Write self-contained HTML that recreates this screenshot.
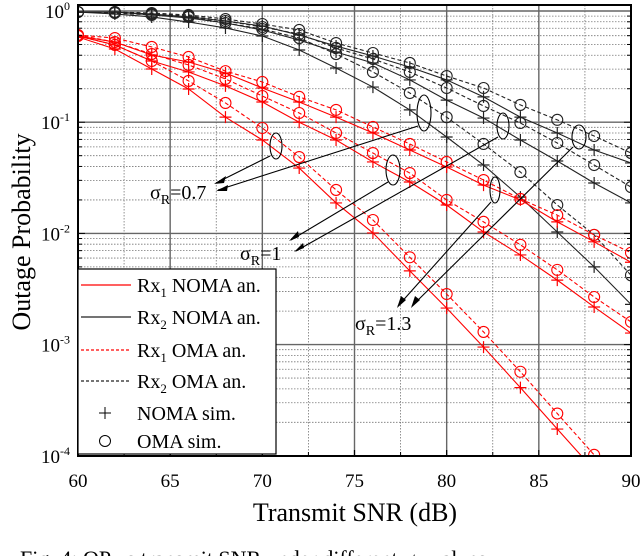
<!DOCTYPE html>
<html><head><meta charset="utf-8"><style>
body{margin:0;background:#fff;width:640px;height:556px;overflow:hidden}
svg{display:block;font-family:"Liberation Serif",serif}
</style></head><body>
<svg id="chart" width="640" height="556" viewBox="0 0 640 556" xmlns="http://www.w3.org/2000/svg">
<g id="grid"></g>
<g id="series"></g>
<g id="axes"></g>
<g id="annot" fill="none" stroke="#000" stroke-width="1.1">
  <ellipse cx="276" cy="146" rx="6" ry="13"/>
  <ellipse cx="424" cy="113" rx="7" ry="18"/>
  <ellipse cx="393" cy="170" rx="7" ry="15"/>
  <ellipse cx="503" cy="126" rx="6" ry="13"/>
  <ellipse cx="495" cy="190" rx="5" ry="13"/>
  <ellipse cx="579" cy="137" rx="7" ry="12"/>
  <line x1="270" y1="156" x2="216" y2="183"/><line x1="418" y1="126" x2="218" y2="190"/>
  <line x1="388" y1="182" x2="291" y2="240"/><line x1="498" y1="137" x2="296" y2="251"/>
  <line x1="491" y1="202" x2="398" y2="306"/><line x1="573" y1="147" x2="412" y2="306"/>
  <g fill="#000" stroke="none">
    <polygon points="214,184 226,176 224,183"/><polygon points="216,191 228,185 227,191"/>
    <polygon points="289,241 298,231 299,237"/><polygon points="294,252 303,243 304,248"/>
    <polygon points="397,308 401,296 406,300"/><polygon points="411,308 415,296 420,300"/>
  </g>
</g>
<g font-size="20" fill="#000">
  <text x="150" y="199">σ<tspan font-size="14" dy="5">R</tspan><tspan dy="-5">=0.7</tspan></text>
  <text x="240" y="260">σ<tspan font-size="14" dy="5">R</tspan><tspan dy="-5">=1</tspan></text>
  <text x="355" y="330">σ<tspan font-size="14" dy="5">R</tspan><tspan dy="-5">=1.3</tspan></text>
</g>
<g id="legend"></g>
<text transform="translate(30,232) rotate(-90)" text-anchor="middle" font-size="26">Outage Probability</text>
<text x="355" y="521" text-anchor="middle" font-size="26">Transmit SNR (dB)</text>
<text x="20" y="566" font-size="22">Fig. 4: OP vs transmit SNR under different σ<tspan font-size="15" dy="4">R</tspan><tspan dy="-4"> values.</tspan></text>
</svg>
<script>
const snr=[60,62,64,66,68,70,72,74,76,78,80,82,84,86,88,90];
const rx1NomaA=[.596,.526,.402,.348,.277,.203,.152,.111,.0800,.0562,.0395,.0272,.0200,.0127,.0084,.0055];
const rx1OmaA=[.608,.571,.475,.386,.288,.230,.169,.129,.0906,.0637,.0439,.0302,.0204,.0146,.0097,.0067];
const rx1NomaB=[.596,.495,.355,.283,.212,.152,.100,.0692,.0439,.0290,.0180,.0103,.0064,.0038,.00218,.00127];
const rx1OmaB=[.608,.526,.410,.327,.245,.172,.121,.0800,.0528,.0349,.0200,.0127,.0079,.0047,.00268,.00160];
const rx1NomaC=[.584,.455,.301,.199,.111,.0692,.0387,.0188,.0101,.0046,.00213,.00095,.00041,.000174,.0000745,.0000313];
const rx1OmaC=[.596,.495,.355,.235,.149,.0887,.0486,.0246,.0132,.0061,.00285,.00130,.00057,.00024,.000102,.0000426];
const rx2NomaA=[.979,.979,.940,.884,.813,.733,.608,.484,.394,.313,.240,.169,.111,.0800,.0562,.0430];
const rx2OmaA=[.979,.979,.959,.921,.847,.764,.675,.515,.419,.341,.260,.203,.143,.105,.0751,.0528];
const rx2NomaB=[.979,.979,.921,.865,.780,.675,.548,.428,.341,.240,.158,.109,.0692,.0448,.0284,.0188];
const rx2OmaB=[.979,.979,.940,.902,.813,.718,.621,.465,.370,.283,.203,.140,.0984,.0650,.0412,.0261];
const rx2NomaC=[.979,.940,.884,.796,.704,.596,.446,.307,.207,.129,.0736,.0412,.0212,.0103,.0050,.0023];
const rx2OmaC=[.979,.959,.921,.884,.780,.689,.571,.410,.283,.183,.111,.0637,.0356,.0180,.0097,.0042];
const xTicks=[60,65,70,75,80,85,90];
const yDecades=[0,-1,-2,-3,-4];

const NS="http://www.w3.org/2000/svg";
const L=78,R=631,T=5,B=456;
function xs(v){return L+(v-60)*(R-L)/30;}
function ys(v){return 11-Math.log10(v)*111.2;}
function mk(tag,attrs,parent){const e=document.createElementNS(NS,tag);for(const k in attrs)e.setAttribute(k,attrs[k]);parent.appendChild(e);return e;}
const grid=document.getElementById('grid'),axes=document.getElementById('axes'),ser=document.getElementById('series'),leg=document.getElementById('legend');
const defs=mk('defs',{},document.getElementById('chart'));
const cp=mk('clipPath',{id:'clip'},defs);mk('rect',{x:L,y:T,width:R-L,height:B-T},cp);
ser.setAttribute('clip-path','url(#clip)');
for(let v=62.5;v<90;v+=5){const l=mk('line',{x1:xs(v),x2:xs(v),y1:T,y2:B,stroke:'#777','stroke-width':0.8,'stroke-dasharray':'1.5,1.5'},grid);

}
for(const d of yDecades){for(let m=2;m<=9;m++){const v=m*Math.pow(10,d-1);const y=ys(v);if(y<T||y>B)continue;
const l=mk('line',{x1:L,x2:R,y1:y,y2:y,stroke:'#777','stroke-width':0.8,'stroke-dasharray':'1.5,1.5'},grid);

}}
for(const t of xTicks){const l=mk('line',{x1:xs(t),x2:xs(t),y1:T,y2:B,stroke:'#666','stroke-width':1.4},grid);


const tx=mk('text',{x:xs(t),y:487,'text-anchor':'middle','font-size':19},axes);tx.textContent=t;


const tk=mk('line',{x1:xs(t),x2:xs(t),y1:B,y2:B-6,stroke:'#000','stroke-width':1.2},axes);

}
for(let v=62.5;v<90;v+=5){const tk=mk('line',{x1:xs(v),x2:xs(v),y1:B,y2:B-4,stroke:'#000'},axes);

}
for(const d of yDecades){const y=ys(Math.pow(10,d));
const l=mk('line',{x1:L,x2:R,y1:y,y2:y,stroke:'#666','stroke-width':1.4},grid);


const tx=mk('text',{x:70,y:y+7,'text-anchor':'end','font-size':19},axes);
tx.innerHTML='10<tspan font-size="12" dy="-8">'+d+'</tspan>';


for(let m=1;m<=9;m++){const yy=ys(m*Math.pow(10,d-1));if(yy<T||yy>B)continue;const w=m==1?7:4;
mk('line',{x1:L,x2:L+w,y1:yy,y2:yy,stroke:'#000'},axes);mk('line',{x1:R,x2:R-w,y1:yy,y2:yy,stroke:'#000'},axes);}}
const frame=mk('rect',{x:L,y:T,width:R-L,height:B-T,fill:'none',stroke:'#000','stroke-width':2},axes);



function drawSeries(vals,color,dashed,marker,name){
  const pts=snr.map((s,i)=>xs(s)+','+ys(vals[i])).join(' ');
  const pl=mk('polyline',{points:pts,fill:'none',stroke:color,'stroke-width':1.1,'stroke-dasharray':dashed?'4,2.5':'none'},ser);
  
  
  snr.forEach((s,i)=>{const x=xs(s),y=ys(vals[i]);let m;
    if(marker==='o'){m=mk('circle',{cx:x,cy:y,r:5.5,fill:'none',stroke:color,'stroke-width':1.1},ser);}
    else{m=mk('path',{d:`M${x-6},${y}H${x+6}M${x},${y-6}V${y+6}`,stroke:color,'stroke-width':1.2,fill:'none'},ser);}
    
    });
}
const red='#ff0000',blk='#222';
drawSeries(rx2OmaA,blk,true,'o','rx2-oma-a');drawSeries(rx2NomaA,blk,false,'+','rx2-noma-a');
drawSeries(rx2OmaB,blk,true,'o','rx2-oma-b');drawSeries(rx2NomaB,blk,false,'+','rx2-noma-b');
drawSeries(rx2OmaC,blk,true,'o','rx2-oma-c');drawSeries(rx2NomaC,blk,false,'+','rx2-noma-c');
drawSeries(rx1OmaA,red,true,'o','rx1-oma-a');drawSeries(rx1NomaA,red,false,'+','rx1-noma-a');
drawSeries(rx1OmaB,red,true,'o','rx1-oma-b');drawSeries(rx1NomaB,red,false,'+','rx1-noma-b');
drawSeries(rx1OmaC,red,true,'o','rx1-oma-c');drawSeries(rx1NomaC,red,false,'+','rx1-noma-c');

const lb=mk('rect',{x:78,y:269,width:198,height:185,fill:'#fff',stroke:'#000','stroke-width':1.2},leg);


const entries=[['Rx','1',' NOMA an.',red,false,null,285],['Rx','2',' NOMA an.',blk,false,null,317],['Rx','1',' OMA an.',red,true,null,350],['Rx','2',' OMA an.',blk,true,null,381],['NOMA sim.','','',blk,false,'+',413],['OMA sim.','','',blk,false,'o',441]];
entries.forEach(e=>{const g=mk('g',{},leg);
  
  
  const y=e[6];
  if(!e[5]){mk('line',{x1:81,x2:131,y1:y,y2:y,stroke:e[3],'stroke-width':1.2,'stroke-dasharray':e[4]?'3,2':'none'},g);}
  else if(e[5]==='+'){mk('path',{d:`M99,${y}H111M105,${y-6}V${y+6}`,stroke:'#000',fill:'none'},g);}
  else{mk('circle',{cx:105,cy:y,r:5.5,fill:'none',stroke:'#000'},g);}
  const t=mk('text',{x:137,y:y+7,'font-size':20},g);
  t.innerHTML=e[1]?`${e[0]}<tspan font-size="13" dy="5">${e[1]}</tspan><tspan dy="-5">${e[2]}</tspan>`:e[0];
});
</script>
</body></html>
